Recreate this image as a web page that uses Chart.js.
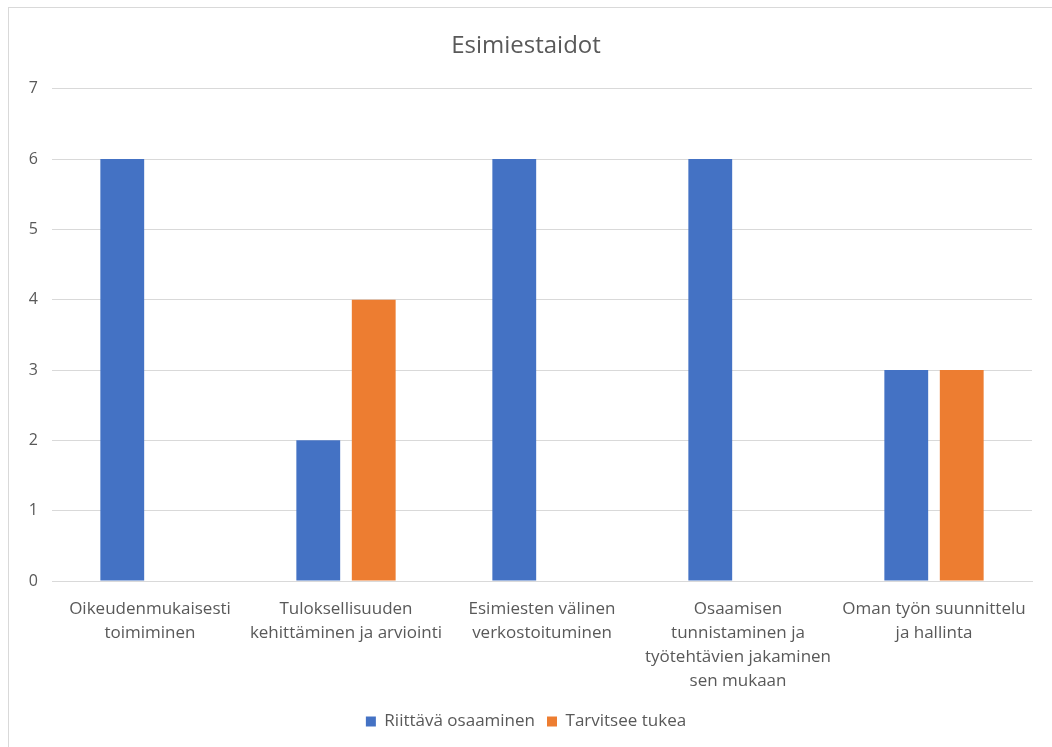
<!DOCTYPE html>
<html>
<head>
<meta charset="utf-8">
<script src="https://cdn.jsdelivr.net/npm/chart.js@4/dist/chart.umd.min.js"></script>
<style>
    html, body { margin: 0; padding: 0; background: #ffffff; overflow: hidden; }
    #frame {
        position: absolute; left: 8px; top: 7px; width: 1100px; height: 800px;
        border: 1px solid #d9d9d9; box-sizing: border-box;
    }
    #wrap { position: absolute; left: 0; top: 0; width: 1052px; height: 747px; }
</style>
</head>
<body>
<div id="frame"></div>
<div id="wrap"><canvas id="chart"></canvas></div>
<script>
// Chart data
const categories = [
    ['Oikeudenmukaisesti', 'toimiminen'],
    ['Tuloksellisuuden', 'kehittäminen ja arviointi'],
    ['Esimiesten välinen', 'verkostoituminen'],
    ['Osaamisen', 'tunnistaminen ja', 'työtehtävien jakaminen', 'sen mukaan'],
    ['Oman työn suunnittelu', 'ja hallinta']
];
const riittavaOsaaminen = [6, 2, 6, 6, 3];
const tarvitseeTukea = [0, 4, 0, 0, 3];
const yTicks = [0, 1, 2, 3, 4, 5, 6, 7];

const textColor = '#595959';
const fontFamily = "'Open Sans', 'Liberation Sans', sans-serif";

document.addEventListener('DOMContentLoaded', function() {
    var ctx = document.getElementById('chart').getContext('2d');
    new Chart(ctx, {
        type: 'bar',
        data: {
            labels: categories,
            datasets: [{
                label: 'Riittävä osaaminen',
                data: riittavaOsaaminen,
                backgroundColor: '#4472C4',
                categoryPercentage: 0.566,
                barPercentage: 0.79
            }, {
                label: 'Tarvitsee tukea',
                data: tarvitseeTukea,
                backgroundColor: '#ED7D31',
                categoryPercentage: 0.566,
                barPercentage: 0.79
            }]
        },
        options: {
            responsive: false,
            animation: false,
            layout: { padding: { left: 20, right: 20, top: 20, bottom: 7 } },
            plugins: {
                title: {
                    display: true,
                    text: 'Esimiestaidot',
                    color: textColor,
                    font: { family: fontFamily, size: 24, weight: 'normal' },
                    padding: { top: 12, bottom: 28 }
                },
                legend: {
                    position: 'bottom',
                    labels: {
                        color: textColor,
                        font: { family: fontFamily, size: 17 },
                        boxWidth: 10,
                        boxHeight: 10,
                        padding: 12
                    }
                },
                tooltip: { enabled: false }
            },
            scales: {
                x: {
                    grid: { display: false },
                    border: { color: '#d9d9d9' },
                    ticks: {
                        color: textColor,
                        font: { family: fontFamily, size: 17, lineHeight: 1.41 },
                        maxRotation: 0,
                        autoSkip: false,
                        padding: 8
                    },
                    afterFit: function(scale) { scale.height = 120; }
                },
                y: {
                    min: 0,
                    max: 7,
                    afterBuildTicks: function(scale) {
                        scale.ticks = yTicks.map(v => ({ value: v }));
                    },
                    grid: { color: '#d9d9d9', drawTicks: false },
                    border: { display: false },
                    ticks: {
                        color: textColor,
                        font: { family: fontFamily, size: 16 },
                        padding: 14
                    },
                    afterFit: function(scale) { scale.width = 32; }
                }
            }
        }
    });
});
</script>
<script>
document.getElementById('chart').width = 1052;
document.getElementById('chart').height = 747;
</script>
</body>
</html>
